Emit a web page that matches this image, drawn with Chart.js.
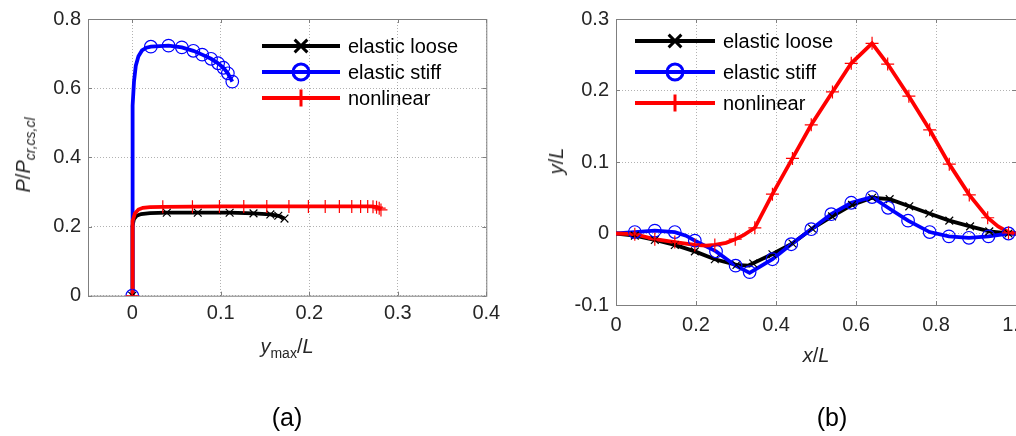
<!DOCTYPE html>
<html>
<head>
<meta charset="utf-8">
<script src="https://cdn.jsdelivr.net/npm/chart.js@4/dist/chart.umd.min.js"></script>
<style>
    body { margin: 0; width: 1016px; height: 436px; overflow: hidden; position: relative; background: #fff; }
    canvas { position: absolute; top: 0; }
    .lbl { position: absolute; font-family: "Liberation Sans", Arial, sans-serif; font-size: 20px; line-height: 20px; color: #262626; white-space: nowrap; }
    .sub { position: relative; top: 5px; font-size: 14px; }
    .panel { font-size: 25px; line-height: 25px; color: #000; }
</style>
</head>
<body>
<canvas id="chartA" width="508" height="436" style="left:0"></canvas>
<canvas id="chartB" width="530" height="436" style="left:508px"></canvas>

<div class="lbl" style="left:24px; top:155px; transform: translate(-50%,-50%) rotate(-90deg);"><i>P</i>/<i>P</i><i class="sub">cr,cs,cl</i></div>
<div class="lbl" style="left:287px; top:336px; transform: translateX(-50%);"><i>y</i><span class="sub">max</span>/<i>L</i></div>
<div class="lbl panel" style="left:287px; top:405px; transform: translateX(-50%);">(a)</div>

<div class="lbl" style="left:556px; top:161px; transform: translate(-50%,-50%) rotate(-90deg);"><i>y</i>/<i>L</i></div>
<div class="lbl" style="left:816px; top:345px; transform: translateX(-50%);"><i>x</i>/<i>L</i></div>
<div class="lbl panel" style="left:832px; top:405px; transform: translateX(-50%);">(b)</div>

<script>
// series names shared by both panels
const seriesNames = ['elastic loose', 'elastic stiff', 'nonlinear'];

// (a) load ratio vs. max deflection: curves and marker points, [x, y]
const aLooseLine = [[0, 0], [0, 0.15], [0.0006, 0.202], [0.002, 0.222], [0.005, 0.231], [0.01, 0.236], [0.02, 0.239],
    [0.039, 0.24], [0.074, 0.24], [0.11, 0.24], [0.137, 0.238], [0.156, 0.235], [0.165, 0.231], [0.172, 0.223]];
const aLooseMarks = [[0, 0], [0.039, 0.24], [0.074, 0.24], [0.11, 0.24], [0.137, 0.238], [0.156, 0.235], [0.165, 0.231], [0.172, 0.223]];

const aStiffLine = [[0, 0], [0, 0.42], [0.0008, 0.55], [0.002, 0.62], [0.004, 0.665], [0.007, 0.692], [0.011, 0.709],
    [0.016, 0.717], [0.021, 0.72], [0.041, 0.723], [0.056, 0.718], [0.069, 0.708], [0.079, 0.697], [0.089, 0.685],
    [0.097, 0.672], [0.103, 0.659], [0.108, 0.643], [0.113, 0.619]];
const aStiffMarks = [[0, 0], [0.021, 0.72], [0.041, 0.723], [0.056, 0.718], [0.069, 0.708], [0.079, 0.697],
    [0.089, 0.685], [0.097, 0.672], [0.103, 0.659], [0.108, 0.643], [0.113, 0.619]];

const aNonlinLine = [[0, 0], [0, 0.16], [0.0008, 0.216], [0.003, 0.238], [0.007, 0.249], [0.012, 0.254], [0.02, 0.256],
    [0.035, 0.257], [0.1, 0.258], [0.2, 0.258], [0.27, 0.258], [0.277, 0.256], [0.281, 0.249]];
const aNonlinMarks = [[0, 0], [0.0345, 0.257], [0.068, 0.257], [0.0985, 0.258], [0.126, 0.258], [0.152, 0.258],
    [0.177, 0.258], [0.199, 0.258], [0.218, 0.258], [0.234, 0.258], [0.248, 0.258], [0.258, 0.258], [0.266, 0.258],
    [0.272, 0.257], [0.276, 0.256], [0.279, 0.253], [0.281, 0.248]];

const aXTicks = [0, 0.1, 0.2, 0.3, 0.4];
const aYTicks = [0, 0.2, 0.4, 0.6, 0.8];

// (b) deflected shape y/L along x/L
const bLooseLine = [[0, 0], [0.047, -0.003], [0.097, -0.009], [0.147, -0.016], [0.197, -0.025], [0.247, -0.036],
    [0.301, -0.044], [0.33, -0.045], [0.39, -0.029], [0.441, -0.014], [0.488, 0.006], [0.54, 0.024], [0.59, 0.04],
    [0.64, 0.05], [0.684, 0.048], [0.733, 0.038], [0.783, 0.028], [0.833, 0.018], [0.885, 0.01], [0.933, 0.003],
    [0.981, 0], [1, 0]];
const bLooseMarks = [[0.047, -0.003], [0.097, -0.009], [0.147, -0.016], [0.197, -0.025], [0.247, -0.036],
    [0.301, -0.044], [0.343, -0.042], [0.391, -0.029], [0.441, -0.014], [0.49, 0.007], [0.54, 0.024], [0.59, 0.04],
    [0.64, 0.05], [0.684, 0.048], [0.733, 0.038], [0.783, 0.028], [0.833, 0.018], [0.885, 0.01], [0.933, 0.003], [0.981, 0]];

const bStiffLine = [[0, 0], [0.047, 0.002], [0.097, 0.004], [0.147, 0.002], [0.175, -0.003], [0.197, -0.01],
    [0.25, -0.025], [0.299, -0.045], [0.334, -0.055], [0.391, -0.036], [0.438, -0.015], [0.488, 0.006],
    [0.538, 0.027], [0.588, 0.043], [0.64, 0.051], [0.68, 0.036], [0.73, 0.018], [0.784, 0.002], [0.832, -0.004],
    [0.882, -0.006], [0.931, -0.004], [0.981, 0], [1, 0]];
const bStiffMarks = [[0.047, 0.002], [0.097, 0.004], [0.147, 0.002], [0.197, -0.01], [0.25, -0.025], [0.299, -0.045],
    [0.334, -0.054], [0.391, -0.036], [0.438, -0.015], [0.488, 0.006], [0.538, 0.027], [0.588, 0.043], [0.64, 0.051],
    [0.68, 0.036], [0.73, 0.018], [0.784, 0.002], [0.832, -0.004], [0.882, -0.006], [0.931, -0.004], [0.981, 0]];

const bNonlinLine = [[0, 0], [0.047, -0.001], [0.097, -0.008], [0.147, -0.012], [0.197, -0.016], [0.225, -0.017],
    [0.247, -0.016], [0.275, -0.013], [0.298, -0.008], [0.32, -0.002], [0.347, 0.008], [0.391, 0.055], [0.441, 0.105],
    [0.488, 0.152], [0.541, 0.198], [0.588, 0.238], [0.64, 0.266], [0.679, 0.237], [0.732, 0.192], [0.784, 0.145],
    [0.833, 0.097], [0.883, 0.054], [0.929, 0.022], [0.955, 0.01], [0.981, 0.002], [1, 0]];
const bNonlinMarks = [[0.047, -0.001], [0.097, -0.008], [0.147, -0.012], [0.197, -0.016], [0.247, -0.016],
    [0.298, -0.008], [0.347, 0.008], [0.391, 0.055], [0.441, 0.105], [0.488, 0.152], [0.541, 0.198], [0.588, 0.238],
    [0.64, 0.266], [0.679, 0.237], [0.732, 0.192], [0.784, 0.145], [0.833, 0.097], [0.883, 0.054], [0.929, 0.022], [0.981, 0.001]];

const bXTicks = [0, 0.2, 0.4, 0.6, 0.8, 1];
const bYTicks = [-0.1, 0, 0.1, 0.2, 0.3];

const FONT = '"Liberation Sans", Arial, sans-serif';
const seriesStyle = [
    { color: '#000000', pointStyle: 'crossRot', radius: 5.5, legendRadius: 9 },
    { color: '#0000ff', pointStyle: 'circle', radius: 6.3, legendRadius: 8 },
    { color: '#ff0000', pointStyle: 'cross', radius: 6.5, legendRadius: 8.5 }
];

function toPoints(pairs) {
    return pairs.map(([x, y]) => ({ x, y }));
}

function lineSet(pairs, i) {
    return {
        data: toPoints(pairs),
        showLine: true,
        borderColor: seriesStyle[i].color,
        borderWidth: 3.8,
        pointRadius: 0,
        tension: 0,
        order: 5 - i
    };
}

function markSet(pairs, i) {
    const s = seriesStyle[i];
    return {
        data: toPoints(pairs),
        showLine: false,
        pointStyle: s.pointStyle,
        pointRadius: s.radius,
        pointBorderColor: s.color,
        pointBackgroundColor: 'rgba(0,0,0,0)',
        pointBorderWidth: 1.2,
        order: 2 - i
    };
}

// box around the plot plus short inward tick marks
const framePlugin = {
    id: 'frame',
    beforeDatasetsDraw(chart) {
        const { ctx, chartArea: a, scales } = chart;
        ctx.save();
        ctx.strokeStyle = '#7f7f7f';
        ctx.lineWidth = 1;
        ctx.strokeRect(a.left + 0.5, a.top + 0.5, a.right - a.left, a.bottom - a.top);
        ctx.beginPath();
        scales.x.ticks.forEach(t => {
            const px = Math.round(scales.x.getPixelForValue(t.value)) + 0.5;
            ctx.moveTo(px, a.bottom); ctx.lineTo(px, a.bottom - 4);
            ctx.moveTo(px, a.top); ctx.lineTo(px, a.top + 4);
        });
        scales.y.ticks.forEach(t => {
            const py = Math.round(scales.y.getPixelForValue(t.value)) + 0.5;
            ctx.moveTo(a.left, py); ctx.lineTo(a.left + 4, py);
            ctx.moveTo(a.right, py); ctx.lineTo(a.right - 4, py);
        });
        ctx.stroke();
        ctx.restore();
    }
};

// legend entries: line with a marker in the middle, then the name
const lineLegend = {
    id: 'lineLegend',
    afterDatasetsDraw(chart, args, opts) {
        const ctx = chart.ctx;
        ctx.save();
        opts.rows.forEach((y, i) => {
            const s = seriesStyle[i];
            ctx.strokeStyle = s.color;
            ctx.lineWidth = 4;
            ctx.beginPath();
            ctx.moveTo(opts.x0, y);
            ctx.lineTo(opts.x1, y);
            ctx.stroke();
            ctx.fillStyle = 'rgba(0,0,0,0)';
            ctx.lineWidth = 3;
            Chart.helpers.drawPoint(ctx, { pointStyle: s.pointStyle, radius: s.legendRadius, borderWidth: 3, rotation: 0 },
                (opts.x0 + opts.x1) / 2, y);
            ctx.fillStyle = '#000';
            ctx.font = '20px ' + FONT;
            ctx.textBaseline = 'middle';
            ctx.fillText(seriesNames[i], opts.textX, y + 1);
        });
        ctx.restore();
    }
};

function makeScales(xr, yr) {
    const grid = { color: 'rgba(0,0,0,0.3)', lineWidth: 1, drawTicks: false };
    const border = { display: false, dash: [1, 2] };
    return {
        x: {
            type: 'linear', min: xr.min, max: xr.max,
            afterBuildTicks: s => { s.ticks = xr.ticks.map(v => ({ value: v })); },
            afterFit: s => { s.height = xr.size; },
            grid, border,
            ticks: { color: '#262626', font: { family: FONT, size: 20 }, padding: xr.pad, maxRotation: 0 }
        },
        y: {
            type: 'linear', min: yr.min, max: yr.max,
            afterBuildTicks: s => { s.ticks = yr.ticks.map(v => ({ value: v })); },
            afterFit: s => { s.width = yr.size; },
            grid, border,
            ticks: { color: '#262626', font: { family: FONT, size: 20 }, padding: 7 }
        }
    };
}

const common = {
    responsive: false,
    animation: false,
    devicePixelRatio: 1,
    events: []
};

new Chart(document.getElementById('chartA'), {
    type: 'scatter',
    data: {
        datasets: [
            lineSet(aLooseLine, 0), lineSet(aStiffLine, 1), lineSet(aNonlinLine, 2),
            markSet(aLooseMarks, 0), markSet(aStiffMarks, 1), markSet(aNonlinMarks, 2)
        ]
    },
    options: {
        ...common,
        layout: { padding: { left: 0, top: 15.7, right: 21.7, bottom: 0 } },
        scales: makeScales(
            { min: -0.05, max: 0.4, ticks: aXTicks, size: 140.3, pad: 6 },
            { min: 0, max: 0.8, ticks: aYTicks, size: 88 }
        ),
        plugins: {
            legend: { display: false },
            tooltip: { enabled: false },
            lineLegend: { x0: 262, x1: 340, textX: 348, rows: [46, 72, 98] }
        }
    },
    plugins: [framePlugin, lineLegend]
});

new Chart(document.getElementById('chartB'), {
    type: 'scatter',
    data: {
        datasets: [
            lineSet(bLooseLine, 0), lineSet(bStiffLine, 1), lineSet(bNonlinLine, 2),
            markSet(bLooseMarks, 0), markSet(bStiffMarks, 1), markSet(bNonlinMarks, 2)
        ]
    },
    options: {
        ...common,
        layout: { padding: { left: 0, top: 15.7, right: 21.5, bottom: 0 } },
        scales: makeScales(
            { min: 0, max: 1, ticks: bXTicks, size: 131, pad: 8 },
            { min: -0.1, max: 0.3, ticks: bYTicks, size: 108 }
        ),
        plugins: {
            legend: { display: false },
            tooltip: { enabled: false },
            lineLegend: { x0: 127, x1: 207, textX: 215, rows: [41, 72, 103] }
        }
    },
    plugins: [framePlugin, lineLegend]
});
</script>
</body>
</html>
